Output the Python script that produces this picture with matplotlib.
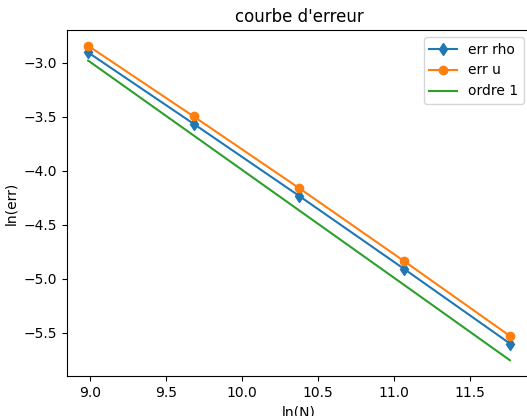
import matplotlib
matplotlib.use("Agg")
import matplotlib.pyplot as plt

ln_N = [8.987, 9.680, 10.373, 11.067, 11.760]
err_rho = [-2.905, -3.565, -4.232, -4.912, -5.600]
err_u = [-2.843, -3.497, -4.160, -4.840, -5.530]
ordre_1 = [-2.980, -3.673, -4.366, -5.060, -5.755]

fig = plt.figure(figsize=(5.27, 4.16), dpi=100)
ax = fig.add_axes([67/527, 40/416, 464/527, 346/416])
ax.plot(ln_N, err_rho, marker='d', label='err rho')
ax.plot(ln_N, err_u, marker='o', label='err u')
ax.plot(ln_N, ordre_1, label='ordre 1')
ax.set_title("courbe d'erreur")
ax.set_xlabel('ln(N)')
ax.set_ylabel('ln(err)')
ax.legend(loc='upper right')
fig.savefig('out.png', dpi=100)
